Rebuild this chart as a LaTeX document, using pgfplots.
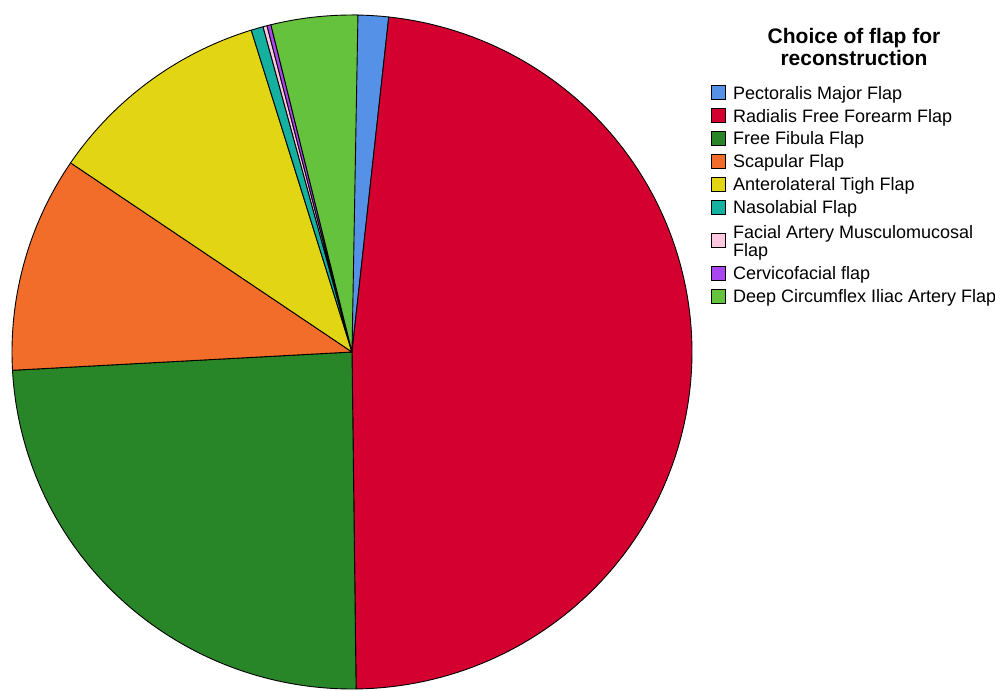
\documentclass[border=0pt]{standalone}
\usepackage{fontspec}
\setmainfont{Liberation Sans}
\usepackage{pgfplots}
\pgfplotsset{compat=1.18}
\definecolor{cBlue}{RGB}{85,145,230}
\definecolor{cRed}{RGB}{212,0,48}
\definecolor{cDkGreen}{RGB}{40,134,40}
\definecolor{cOrange}{RGB}{242,108,42}
\definecolor{cYellow}{RGB}{226,214,20}
\definecolor{cTeal}{RGB}{20,176,160}
\definecolor{cPink}{RGB}{255,200,225}
\definecolor{cPurple}{RGB}{170,70,240}
\definecolor{cLtGreen}{RGB}{100,194,60}
% counts: 9, 251, 127, 54, 56, 3, 1, 1, 20 (total 522)
\newcommand{\slice}[3]{%
  \addplot[fill=#3, draw=black, line width=0.9pt, line join=round, domain=#1:#2, samples=120, variable=\t]
    ({352+340*cos(90-360*\t/522)}, {339+337*sin(90-360*\t/522)}) -- (axis cs:352,339) -- cycle;
}
\newcommand{\legitem}[3]{% y-center (image px), colour, text
  \draw[fill=#2, draw=black, line width=0.9pt] (axis cs:711,{691-#1-7}) rectangle (axis cs:725,{691-#1+7});
  \node[anchor=base west, inner sep=0pt, font=\fontsize{18}{19}\selectfont] at (axis cs:733,{691-#1-6.4}) {#3};
}
\begin{document}
\begin{tikzpicture}
\useasboundingbox (0,0) rectangle (995pt,691pt);
\begin{axis}[at={(0,0)}, anchor=south west, width=995pt, height=691pt, scale only axis,
  xmin=0, xmax=995, ymin=0, ymax=691, hide axis, clip=true]
\slice{0}{9}{cBlue}
\slice{9}{260}{cRed}
\slice{260}{387}{cDkGreen}
\slice{387}{441}{cOrange}
\slice{441}{497}{cYellow}
\slice{497}{500}{cTeal}
\slice{500}{501}{cPink}
\slice{501}{502}{cPurple}
\slice{502}{522}{cLtGreen}
\node[anchor=base, inner sep=0pt, font=\fontsize{21}{22}\selectfont\bfseries] at (axis cs:854,{691-44}) {Choice of flap for};
\node[anchor=base, inner sep=0pt, font=\fontsize{21}{22}\selectfont\bfseries] at (axis cs:854,{691-65.7}) {reconstruction};
\legitem{92.7}{cBlue}{Pectoralis Major Flap}
\legitem{115.7}{cRed}{Radialis Free Forearm Flap}
\legitem{138.5}{cDkGreen}{Free Fibula Flap}
\legitem{161.3}{cOrange}{Scapular Flap}
\legitem{184.2}{cYellow}{Anterolateral Tigh Flap}
\legitem{207}{cTeal}{Nasolabial Flap}
\draw[fill=cPink, draw=black, line width=0.9pt] (axis cs:711,{691-240-7}) rectangle (axis cs:725,{691-240+7});
\node[anchor=base west, inner sep=0pt, font=\fontsize{18}{19}\selectfont] at (axis cs:733,{691-238.3}) {Facial Artery Musculomucosal};
\node[anchor=base west, inner sep=0pt, font=\fontsize{18}{19}\selectfont] at (axis cs:733,{691-256.5}) {Flap};
\legitem{273}{cPurple}{Cervicofacial flap}
\legitem{296}{cLtGreen}{Deep Circumflex Iliac Artery Flap}
\end{axis}
\end{tikzpicture}
\end{document}
